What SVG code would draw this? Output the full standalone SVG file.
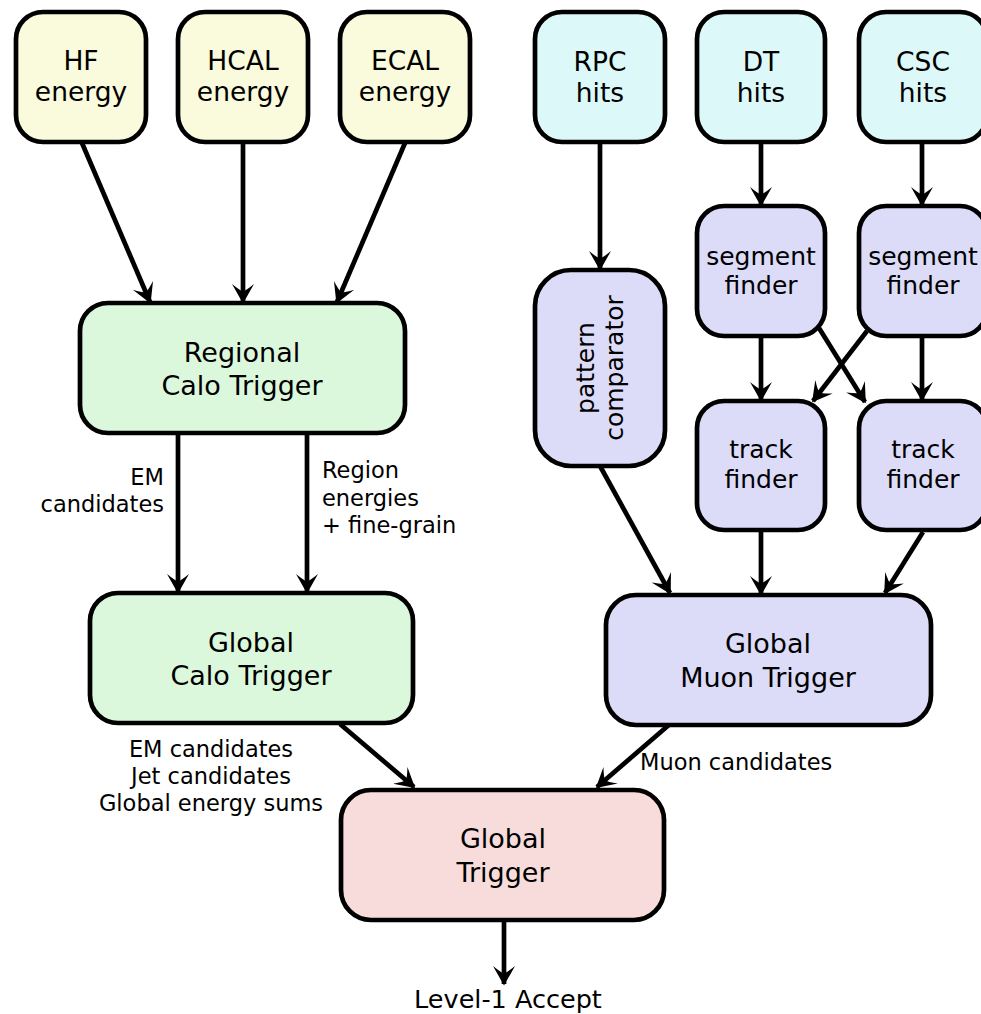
<svg xmlns="http://www.w3.org/2000/svg" width="981" height="1014" viewBox="0 0 981 1014">
<style>
.n{stroke:#000;stroke-width:4.7}
.cin{fill:#fafadc}.min{fill:#dcf8f8}.g{fill:#dcf8dc}.m{fill:#dcdcf8}.p{fill:#f8dcdc}
text{font-family:"DejaVu Sans",Verdana,sans-serif;fill:#000}
.t{font-size:26.5px;text-anchor:middle}
.b{font-size:27px}
.s{font-size:25px;text-anchor:middle}
.l{font-size:22.5px}
.c line{stroke:#000;stroke-width:4.7;marker-end:url(#ah)}
</style>
<defs>
<marker id="ah" markerUnits="userSpaceOnUse" viewBox="-22 -13 24 26" markerWidth="24" markerHeight="26" refX="0" refY="0" orient="auto">
<path d="M1.5,0 L-18,-11 Q-11.5,-3 -10.5,0 Q-11.5,3 -18,11 Z" fill="#000"/>
</marker>
</defs>
<g id="connectors" class="c">
<line x1="82" y1="143" x2="150" y2="302"/>
<line x1="243" y1="143" x2="243" y2="302"/>
<line x1="405" y1="143" x2="337" y2="302"/>
<line x1="178" y1="433" x2="178" y2="592"/>
<line x1="307" y1="433" x2="307" y2="592"/>
<line x1="340" y1="724" x2="414" y2="787"/>
<line x1="670" y1="724" x2="597" y2="787"/>
<line x1="504" y1="920" x2="504" y2="984"/>
<line x1="600" y1="142" x2="600" y2="269"/>
<line x1="761" y1="142" x2="761" y2="205"/>
<line x1="922" y1="142" x2="922" y2="205"/>
<line x1="761" y1="336" x2="761" y2="400"/>
<line x1="922" y1="336" x2="922" y2="400"/>
<line x1="819" y1="328" x2="865" y2="402"/>
<line x1="867" y1="331" x2="813" y2="401"/>
<line x1="600" y1="466" x2="670" y2="593"/>
<line x1="761" y1="530" x2="761" y2="594"/>
<line x1="923" y1="532" x2="885" y2="593"/>
</g>
<g id="hf"><rect class="n cin" x="16" y="12" width="130" height="130" rx="27"/><text class="t" x="81" y="70">HF</text><text class="t" x="81" y="101">energy</text></g>
<g id="hcal"><rect class="n cin" x="178" y="12" width="130" height="130" rx="27"/><text class="t" x="243" y="70">HCAL</text><text class="t" x="243" y="101">energy</text></g>
<g id="ecal"><rect class="n cin" x="340" y="12" width="130" height="130" rx="27"/><text class="t" x="405" y="70">ECAL</text><text class="t" x="405" y="101">energy</text></g>
<g id="rpc"><rect class="n min" x="535" y="12" width="130" height="130" rx="27"/><text class="t" x="600" y="71">RPC</text><text class="t" x="600" y="102">hits</text></g>
<g id="dt"><rect class="n min" x="697" y="12" width="128" height="130" rx="27"/><text class="t" x="761" y="71">DT</text><text class="t" x="761" y="102">hits</text></g>
<g id="csc"><rect class="n min" x="859" y="12" width="128" height="130" rx="27"/><text class="t" x="923" y="71">CSC</text><text class="t" x="923" y="102">hits</text></g>
<g id="rct"><rect class="n g" x="80" y="303" width="325" height="130" rx="28"/><text class="t b" x="242" y="362">Regional</text><text class="t b" x="242" y="395">Calo Trigger</text></g>
<g id="gct"><rect class="n g" x="90" y="593" width="323" height="130" rx="28"/><text class="t b" x="251" y="652">Global</text><text class="t b" x="251" y="685">Calo Trigger</text></g>
<g id="pc"><rect class="n m" x="535" y="270" width="130" height="196" rx="36"/><g transform="translate(600,368) rotate(-90)"><text class="s" x="0" y="-6">pattern</text><text class="s" x="0" y="23">comparator</text></g></g>
<g id="seg1"><rect class="n m" x="697" y="206" width="128" height="130" rx="27"/><text class="s" x="761" y="265">segment</text><text class="s" x="761" y="294">finder</text></g>
<g id="seg2"><rect class="n m" x="859" y="206" width="128" height="130" rx="27"/><text class="s" x="923" y="265">segment</text><text class="s" x="923" y="294">finder</text></g>
<g id="trk1"><rect class="n m" x="697" y="401" width="128" height="129" rx="27"/><text class="s" x="761" y="458">track</text><text class="s" x="761" y="488">finder</text></g>
<g id="trk2"><rect class="n m" x="859" y="401" width="128" height="129" rx="27"/><text class="s" x="923" y="458">track</text><text class="s" x="923" y="488">finder</text></g>
<g id="gmt"><rect class="n m" x="606" y="595" width="325" height="130" rx="30"/><text class="t b" x="768" y="653">Global</text><text class="t b" x="768" y="687">Muon Trigger</text></g>
<g id="gt"><rect class="n p" x="341" y="790" width="323" height="130" rx="30"/><text class="t b" x="503" y="848">Global</text><text class="t b" x="503" y="882">Trigger</text></g>
<g id="labels">
<text class="l" x="164" y="485" text-anchor="end">EM</text>
<text class="l" x="164" y="512" text-anchor="end">candidates</text>
<text class="l" x="322" y="478">Region</text>
<text class="l" x="322" y="506">energies</text>
<text class="l" x="322" y="533">+ fine-grain</text>
<text class="l" x="211" y="757" text-anchor="middle">EM candidates</text>
<text class="l" x="211" y="784" text-anchor="middle">Jet candidates</text>
<text class="l" x="211" y="811" text-anchor="middle">Global energy sums</text>
<text class="l" x="640" y="770">Muon candidates</text>
<text x="508" y="1008" text-anchor="middle" style="font-size:25.5px">Level-1 Accept</text>
</g>
</svg>
